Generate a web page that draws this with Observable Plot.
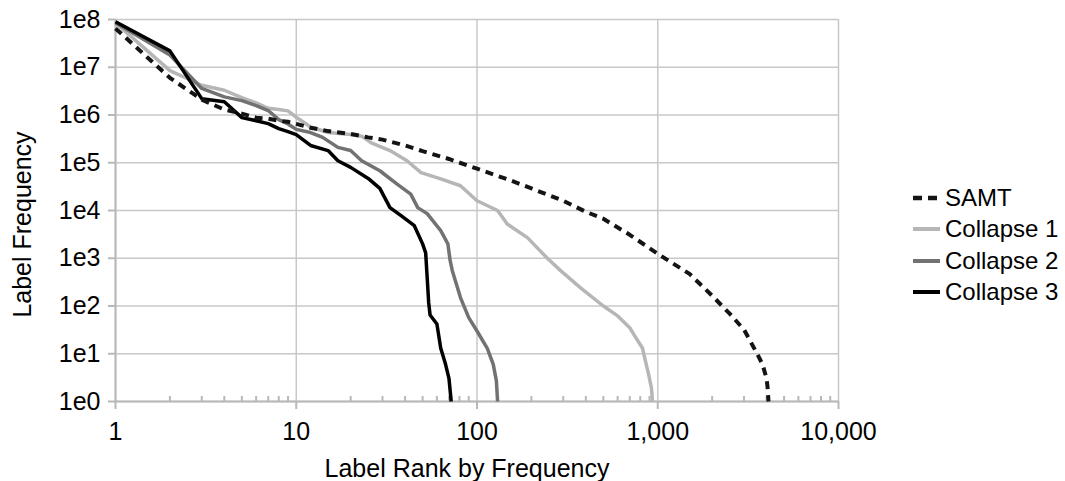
<!DOCTYPE html>
<html><head><meta charset="utf-8">
<script src="https://cdn.jsdelivr.net/npm/d3@7"></script>
<script src="https://cdn.jsdelivr.net/npm/@observablehq/plot@0.6"></script>
<style>
body{margin:0;background:#fff;font-family:"Liberation Sans",Arial,sans-serif;}
#wrap{position:relative;width:1065px;height:481px;overflow:hidden;}
#legend{position:absolute;left:913px;top:182px;font-size:24px;color:#000;}
.item{display:flex;align-items:center;height:31.5px;white-space:nowrap;}
.item svg{margin-right:5px;display:block}
</style></head><body><div id="wrap"><div id="legend"></div></div>
<script>
// ---- data (rank, frequency) ----
const seriesNames = ["SAMT", "Collapse 1", "Collapse 2", "Collapse 3"];
const seriesColors = ["#141414", "#b6b6b6", "#727272", "#000000"];

const samt = [[1,6.5e7],[2,6.0e6],[3,2.1e6],[4,1.3e6],[5,1.07e6],[6,8.8e5],[7,8.4e5],[8,7.6e5],[9,7.2e5],[10,6.5e5],[12,5.4e5],[15,4.6e5],[20,4.0e5],[25,3.4e5],[30,3.05e5],[40,2.3e5],[50,1.75e5],[70,1.2e5],[100,7.5e4],[150,4.4e4],[200,2.9e4],[300,1.6e4],[400,9.4e3],[500,6.7e3],[700,3.1e3],[1000,1.24e3],[1500,470],[2000,164],[2500,69],[3000,32],[3500,11],[3800,6],[4000,3],[4050,2],[4100,1]];

const collapse1 = [[1,8.5e7],[2,8.5e6],[3,4.2e6],[4,3.3e6],[5,2.3e6],[6,1.8e6],[7,1.38e6],[8,1.3e6],[9,1.22e6],[10,9e5],[12,5.6e5],[15,4.3e5],[20,3.9e5],[23,3.6e5],[26,2.6e5],[33,1.8e5],[41,1.1e5],[49,6.2e4],[63,4.6e4],[81,3.3e4],[100,1.6e4],[130,1e4],[147,5.2e3],[190,2.7e3],[245,1.0e3],[290,550],[374,240],[500,100],[600,62],[700,35],[734,26],[824,13],[855,7],[889,3.8],[923,1.9],[935,1]];

const collapse2 = [[1,8.6e7],[2,1.8e7],[3,3.6e6],[4,2.4e6],[5,2.0e6],[6,1.57e6],[7,1.24e6],[8,8.0e5],[9,6.5e5],[10,5.0e5],[12,4.3e5],[14,3.4e5],[17,2.1e5],[20,1.8e5],[23,1.1e5],[29,6.8e4],[36,3.6e4],[43,2.2e4],[47,1.15e4],[53,8.6e3],[63,3.8e3],[69,2.0e3],[71,900],[73,550],[78,240],[81,150],[90,57],[100,30],[114,13],[123,6],[128,2.7],[130,1]];

const collapse3 = [[1,9e7],[2,2.2e7],[3,2.2e6],[4,1.9e6],[5,8.8e5],[6,7.6e5],[7,6.6e5],[8,5.2e5],[9,4.5e5],[10,3.9e5],[12,2.3e5],[15,1.8e5],[17,1.1e5],[20,8e4],[25,4.7e4],[29,2.9e4],[33,1.15e4],[38,7.8e3],[45,4.8e3],[50,2.0e3],[52,1.3e3],[53,400],[54,120],[55,65],[60,42],[63,13],[67,6],[70,3],[72,1]];

const xMajorTicks = [1, 10, 100, 1000, 10000];
const xTickLabels = ["1", "10", "100", "1,000", "10,000"];
const xMinorTicks = [2,3,4,5,6,7,8,9,20,30,40,50,60,70,80,90,200,300,400,500,600,700,800,900,2000,3000,4000,5000,6000,7000,8000,9000];
const yTicks = [1, 10, 100, 1e3, 1e4, 1e5, 1e6, 1e7, 1e8];
const yTickLabels = ["1e0","1e1","1e2","1e3","1e4","1e5","1e6","1e7","1e8"];
const xTitle = "Label Rank by Frequency";
const yTitle = "Label Frequency";

// ---- chart ----
const xLab = new Map(xMajorTicks.map((t, i) => [t, xTickLabels[i]]));
const yLab = new Map(yTicks.map((t, i) => [t, yTickLabels[i]]));
const axisGray = "#b8b8b8";
const gridGray = "#c8c8c8";
const seriesData = [samt, collapse1, collapse2, collapse3];

const lineMark = (k) => Plot.line(seriesData[k], {
  x: d => d[0], y: d => d[1],
  stroke: seriesColors[k], strokeWidth: k === 0 ? 4 : 3.5,
  strokeDasharray: k === 0 ? "8,6" : null,
  strokeLinejoin: "round", strokeLinecap: "butt"
});

const chart = Plot.plot({
  width: 1065, height: 481,
  marginLeft: 115, marginRight: 227, marginTop: 19, marginBottom: 80,
  style: {fontFamily: "'Liberation Sans', Arial, sans-serif", background: "white", color: "black"},
  x: {type: "log", domain: [1, 10000]},
  y: {type: "log", domain: [1, 1e8]},
  marks: [
    Plot.gridX(xMajorTicks, {stroke: gridGray, strokeOpacity: 1, strokeWidth: 1.5}),
    Plot.gridY(yTicks, {stroke: gridGray, strokeOpacity: 1, strokeWidth: 1.5}),
    Plot.axisY(yTicks, {tickSize: 7, tickPadding: 8, fontSize: 25, stroke: axisGray, strokeWidth: 2, fill: "black", tickFormat: d => yLab.get(d), label: null}),
    Plot.axisX(xMajorTicks, {tickSize: 8, tickPadding: 13, fontSize: 25, stroke: axisGray, strokeWidth: 2, fill: "black", tickFormat: d => xLab.get(d), label: null}),
    Plot.axisX(xMinorTicks, {tickSize: -5, tickPadding: 0, tickFormat: () => "", stroke: axisGray, strokeWidth: 2, label: null}),
    Plot.ruleX([1], {stroke: axisGray, strokeWidth: 2}),
    Plot.ruleY([1], {stroke: axisGray, strokeWidth: 2}),
    lineMark(1), lineMark(2), lineMark(3), lineMark(0),
    Plot.text([yTitle], {text: d => d, frameAnchor: "left", textAnchor: "middle", lineAnchor: "middle", rotate: -90, dx: -93, dy: 14, fontSize: 25, fill: "black"}),
    Plot.text([xTitle], {text: d => d, frameAnchor: "bottom", textAnchor: "middle", lineAnchor: "middle", dx: -10, dy: 67, fontSize: 25, fill: "black"})
  ]
});
document.getElementById("wrap").prepend(chart);

// ---- legend ----
const legend = document.getElementById("legend");
seriesNames.forEach((name, k) => {
  const item = document.createElement("div");
  item.className = "item";
  const dash = k === 0 ? 'stroke-dasharray="9,6"' : "";
  item.innerHTML = `<svg width="27" height="10"><line x1="0" y1="5" x2="27" y2="5" stroke="${seriesColors[k]}" stroke-width="${k === 0 ? 4.5 : 4}" ${dash}/></svg><span>${name}</span>`;
  legend.appendChild(item);
});
</script>
</body></html>
